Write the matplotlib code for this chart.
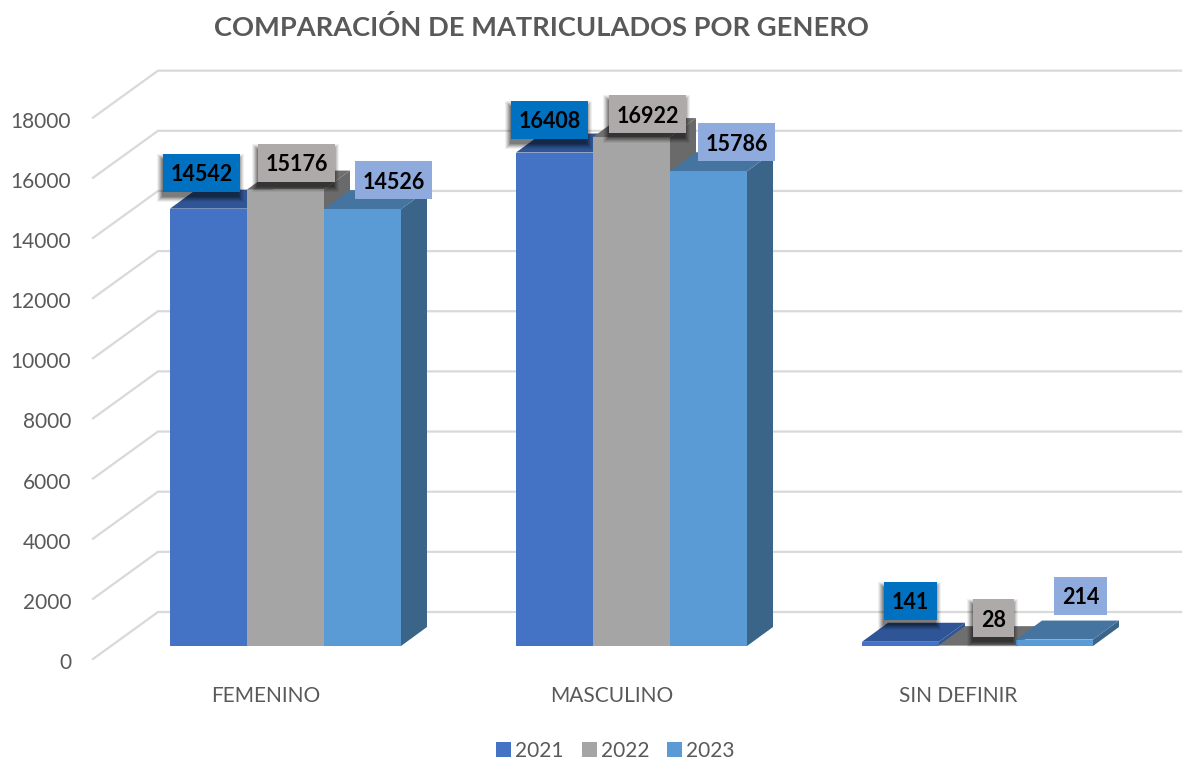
"""Oblique 3D-look clustered bars, matriculados por genero."""
import matplotlib
matplotlib.use("Agg")
import matplotlib.pyplot as plt
from matplotlib.patches import Rectangle

categories = ["FEMENINO", "MASCULINO", "SIN DEFINIR"]
years = ["2021", "2022", "2023"]
v2021 = [14542, 16408, 141]
v2022 = [15176, 16922, 28]
v2023 = [14526, 15786, 214]
y_ticks = [0, 2000, 4000, 6000, 8000, 10000, 12000, 14000, 16000, 18000]

front = ["#4472C4", "#A5A5A5", "#5B9BD5"]
top = ["#2F5597", "#6F6F6F", "#44749F"]
side = ["#2F5597", "#6A6A6A", "#3A6488"]
label_bg = ["#0070C0", "#AEAAAA", "#8FAADC"]
GRID = "#D9D9D9"
TXT = "#595959"

W, H = 1187, 757
BASE_PX = 646          # pixel row of value 0 on the bar fronts
FIRST_PX = 285.5       # pixel column of first cluster centre
STEP_PX = 346          # cluster spacing
PX_X = 1 / STEP_PX     # category units per pixel
PX_Y = 2000 / 60.15    # value units per pixel

plt.rcParams["font.family"] = ["Lato", "DejaVu Sans"]
fig = plt.figure(figsize=(W / 100, H / 100), dpi=100, facecolor="white")
ax = fig.add_axes([0, 0, 1, 1])
ax.set_xlim(-FIRST_PX * PX_X, (W - FIRST_PX) * PX_X)
ax.set_ylim(-(H - BASE_PX) * PX_Y, BASE_PX * PX_Y)
ax.axis("off")


def px(x):
    return (x - FIRST_PX) * PX_X


def val(y):
    return (BASE_PX - y) * PX_Y


# walls: one diagonal plus one back line per tick
floor = 13 * PX_Y
gdx, gdy = 65 * PX_X, 47 * PX_Y
left = px(93)
for t in y_ticks:
    y0 = t - floor
    ax.plot([left, left + gdx, px(1181)], [y0, y0 + gdy, y0 + gdy],
            color=GRID, lw=1.6, solid_joinstyle="miter", zorder=1)
    ax.text(px(71), t - floor - 2 * PX_Y, str(t), ha="right", va="center_baseline",
            fontsize=15, color=TXT)

# bars
bw = 77 * PX_X
ddx, ddy = 26 * PX_X, 19 * PX_Y
series = [v2021, v2022, v2023]
z = 2
handles = []
for c in range(len(categories)):
    for s, vals in enumerate(series):
        v = vals[c]
        x0 = c + (s - 1.5) * bw
        x1 = x0 + bw
        ax.fill([x1, x1 + ddx, x1 + ddx, x1], [0, ddy, v + ddy, v],
                color=side[s], lw=0, zorder=z)
        ax.fill([x0, x1, x1 + ddx, x0 + ddx], [v, v, v + ddy, v + ddy],
                color=top[s], lw=0, zorder=z)
        poly = ax.fill([x0, x1, x1, x0], [0, 0, v, v], color=front[s], lw=0,
                       zorder=z, label=years[s] if c == 0 else None)
        handles += poly if c == 0 else []
        z += 1

# data labels: pixel offset of box centre from bar top-centre, box width
label_dx = [[-7, 11, 31], [-5, 16, 28], [10, 16, 26]]
label_dy = [[36, 27, 29], [33, 23, 29], [41, 27, 44]]
label_w = [[77, 77, 77], [77, 77, 77], [53, 41, 53]]
box_h = 38
for c in range(len(categories)):
    for s, vals in enumerate(series):
        v = vals[c]
        xc = c + (s - 1) * bw + label_dx[c][s] * PX_X
        yc = v + label_dy[c][s] * PX_Y
        w = label_w[c][s] * PX_X
        h = box_h * PX_Y
        if s < 2:  # soft shadow, mostly below the box
            for grow in range(5, -1, -1):
                ax.add_patch(Rectangle(
                    (xc - w / 2 - (grow + 1) * PX_X, yc - h / 2 - (grow + 5) * PX_Y),
                    w + 2 * grow * PX_X, h + 2 * grow * PX_Y,
                    facecolor="black", alpha=0.06 + 0.02 * (5 - grow), lw=0, zorder=50))
        ax.add_patch(Rectangle((xc - w / 2, yc - h / 2), w, h,
                               facecolor=label_bg[s], lw=0, zorder=51))
        ax.text(xc, yc, str(v), ha="center", va="center_baseline", fontsize=15.5,
                fontweight="bold", color="black", zorder=52)

# category labels
for c, name in enumerate(categories):
    ax.text(c - 19.5 * PX_X, val(693.5), name, ha="center", va="center_baseline",
            fontsize=15, color=TXT)

ax.text(px(541), val(26), "COMPARACIÓN DE MATRICULADOS POR GENERO", ha="center",
        va="center_baseline", fontsize=19.6, fontweight="bold", color=TXT)

ax.legend(handles=handles, loc="center", bbox_to_anchor=(615.5 / W, 1 - 751 / H),
          ncol=3, frameon=False, fontsize=15, labelcolor=TXT, handlelength=0.72,
          handleheight=0.72, handletextpad=0.2, columnspacing=0.85)

fig.savefig("out.png", dpi=100)
